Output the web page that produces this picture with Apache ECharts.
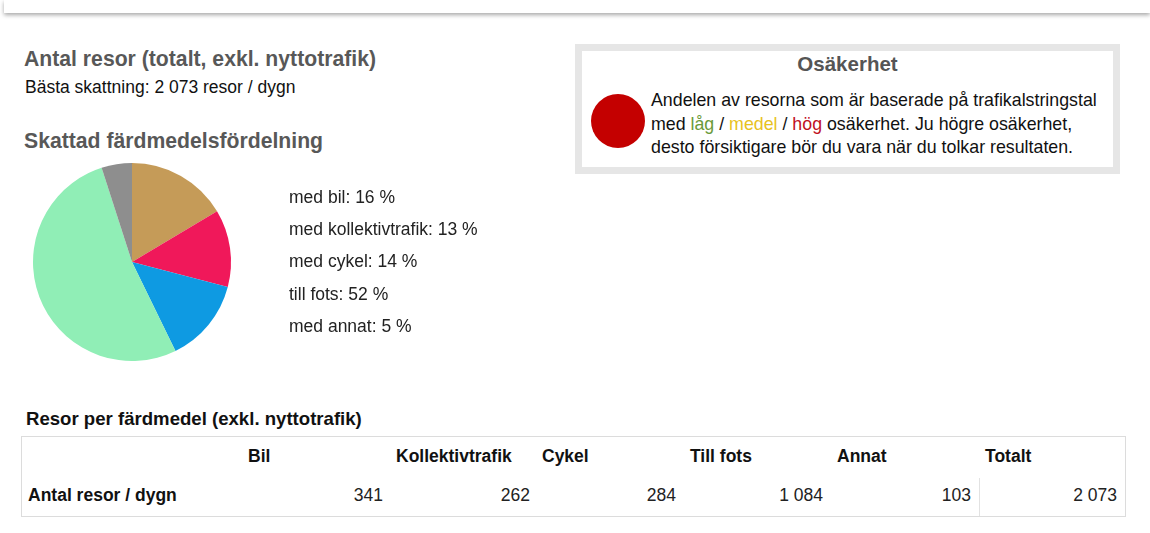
<!DOCTYPE html>
<html>
<head>
<meta charset="utf-8">
<script src="https://cdn.jsdelivr.net/npm/echarts@6/dist/echarts.min.js"></script>
<style>
  body { margin: 0; background: #fff; font-family: "Liberation Sans", Arial, sans-serif; }
  #page { position: relative; width: 1150px; height: 533px; overflow: hidden; }
  #chart { position: absolute; left: 0; top: 0; width: 1150px; height: 533px; }
  .abs { position: absolute; white-space: nowrap; line-height: 1; }
  .topbar { position: absolute; left: 4px; right: 0; top: 0; height: 13px; background: #fff; box-shadow: 0 2px 4px rgba(0,0,0,0.35); }
  .h1 { font-size: 21.2px; font-weight: bold; color: #585858; }
  .txt { font-size: 17.5px; color: #111; }
  .box { position: absolute; left: 575px; top: 44px; width: 531px; height: 116px; border: 7px solid #e6e6e6; background: #fff; }
  .dot { position: absolute; left: 591px; top: 94px; width: 54px; height: 54px; border-radius: 50%; background: #c40000; }
  .unc { font-size: 17.8px; color: #111; line-height: 23.5px; }
  .tbl { position: absolute; left: 21px; top: 436px; width: 1103px; height: 79px; border: 1px solid #dcdcdc; }
  .th { font-size: 17.5px; font-weight: bold; color: #111; }
  .td { font-size: 17.5px; color: #222; }
</style>
</head>
<body>
<div id="page">
  <div class="topbar"></div>
  <div class="abs h1" style="left:24px;top:48px;">Antal resor (totalt, exkl. nyttotrafik)</div>
  <div class="abs txt" style="left:25px;top:79px;">Bästa skattning: 2 073 resor / dygn</div>
  <div class="abs h1" style="left:24px;top:130px;">Skattad färdmedelsfördelning</div>

  <div class="box"></div>
  <div class="abs" style="left:575px;width:545px;top:54px;text-align:center;font-size:20.5px;font-weight:bold;color:#555;">Osäkerhet</div>
  <div class="dot"></div>
  <div class="abs unc" style="left:651px;top:89px;">Andelen av resorna som är baserade på trafikalstringstal<br>med <span style="color:#6a9a3a">låg</span> / <span style="color:#e8c21e">medel</span> / <span style="color:#c0101e">hög</span> osäkerhet. Ju högre osäkerhet,<br>desto försiktigare bör du vara när du tolkar resultaten.</div>

  <div class="abs" style="left:26px;top:410px;font-size:18.6px;font-weight:bold;color:#111;">Resor per färdmedel (exkl. nyttotrafik)</div>
  <div class="tbl"></div>
  <div class="abs" style="left:979px;top:478px;width:1px;height:38px;background:#e2e2e2;"></div>
  <div id="cells"></div>

  <div id="chart"></div>
</div>
<script>
var categories = ['med bil', 'med kollektivtrafik', 'med cykel', 'till fots', 'med annat'];
var trips = [341, 262, 284, 1084, 103];
var totalTrips = 2073;
var colors = ['#c59b58', '#f0185a', '#0e9ae2', '#90eeb6', '#8e8e8e'];
var headers = ['Bil', 'Kollektivtrafik', 'Cykel', 'Till fots', 'Annat', 'Totalt'];

function fmt(n) {
  return String(n).replace(/\B(?=(\d{3})+(?!\d))/g, ' ');
}

// tabellen
var headerX = [248, 396, 542, 690, 837, 985];
var valueRight = [383, 530, 676, 823, 971, 1117];
var cells = document.getElementById('cells');
var html = '<div class="abs th" style="left:28px;top:487px;">Antal resor / dygn</div>';
headers.forEach(function (h, i) {
  html += '<div class="abs th" style="left:' + headerX[i] + 'px;top:448px;">' + h + '</div>';
});
trips.concat([totalTrips]).forEach(function (v, i) {
  html += '<div class="abs td" style="right:' + (1150 - valueRight[i]) + 'px;top:487px;">' + fmt(v) + '</div>';
});
cells.innerHTML = html;

var myChart = echarts.init(document.getElementById('chart'));
var option = {
  animation: false,
  color: colors,
  legend: {
    orient: 'vertical',
    left: 279,
    top: 183,
    icon: 'none',
    itemWidth: 0,
    itemHeight: 20,
    itemGap: 12.3,
    selectedMode: false,
    textStyle: { fontSize: 17.5, lineHeight: 20, color: '#222', fontFamily: 'Liberation Sans' },
    formatter: function (name) {
      var i = categories.indexOf(name);
      return name + ': ' + Math.round(trips[i] / totalTrips * 100) + ' %';
    }
  },
  series: [
    {
      type: 'pie',
      center: [132, 262],
      radius: 99,
      startAngle: 90,
      label: { show: false },
      labelLine: { show: false },
      itemStyle: { borderWidth: 0 },
      data: categories.map(function (c, i) {
        return { name: c, value: trips[i] };
      })
    }
  ]
};
myChart.setOption(option);
</script>
</body>
</html>
